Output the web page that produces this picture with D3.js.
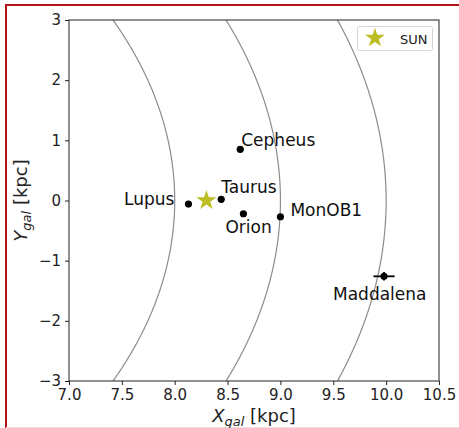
<!DOCTYPE html>
<html><head><meta charset="utf-8">
<script src="https://cdn.jsdelivr.net/npm/d3@7"></script>
<style>
html,body{margin:0;padding:0;background:#fff;}
svg{display:block;font-family:"DejaVu Sans",sans-serif;}
</style></head>
<body>
<svg id="c" width="459" height="428"></svg>
<script>
// ---- data ----
const regions = ["Lupus", "Taurus", "Cepheus", "Orion", "MonOB1", "Maddalena"];
const xgal = [8.13, 8.44, 8.62, 8.65, 9.00, 9.98];
const ygal = [-0.06, 0.02, 0.85, -0.22, -0.27, -1.26];
const xerr = [0, 0, 0.03, 0, 0, 0.10];
const yerr = [0, 0, 0.03, 0, 0, 0.07];
const sunX = [8.3];
const sunY = [0.0];
const circleRadii = [8, 9, 10];
const xTicks = [7.0, 7.5, 8.0, 8.5, 9.0, 9.5, 10.0, 10.5];
const yTicks = [-3, -2, -1, 0, 1, 2, 3];
const legendLabels = ["SUN"];

// ---- layout / style (not data) ----
const labelStyle = {
  Lupus:     {dx: -14, dy: 1,  anchor: "end"},
  Taurus:    {dx: 0,   dy: -6, anchor: "start"},
  Cepheus:   {dx: 1,   dy: -3, anchor: "start"},
  Orion:     {dx: -18, dy: 19, anchor: "start"},
  MonOB1:    {dx: 10,  dy: -1, anchor: "start"},
  Maddalena: {dx: -51, dy: 24, anchor: "start"}
};
const starColor = "#bcbd22";

const svg = d3.select("#c");
// figure border
svg.append("rect").attr("x", 0).attr("y", 0).attr("width", 459).attr("height", 428).attr("fill", "#fff");
svg.append("path").attr("d", "M6,428 V5 H459").attr("fill", "none").attr("stroke", "#b21515").attr("stroke-width", 2);
svg.append("line").attr("x1", 6).attr("x2", 459).attr("y1", 427.5).attr("y2", 427.5).attr("stroke", "#f3dede").attr("stroke-width", 1);

const L = 69, R = 439, T = 20, B = 381;
const x = d3.scaleLinear().domain([7.0, 10.5]).range([L, R]);
const y = d3.scaleLinear().domain([-3, 3]).range([B, T]);

svg.append("clipPath").attr("id", "clip").append("rect")
  .attr("x", L).attr("y", T).attr("width", R - L).attr("height", B - T);

const plot = svg.append("g").attr("clip-path", "url(#clip)");

// circles of constant galactocentric radius
circleRadii.forEach(r => {
  const pts = d3.range(-3.3, 3.31, 0.02).map(v => [Math.sqrt(r * r - v * v), v]);
  plot.append("path")
    .attr("d", d3.line().x(d => x(d[0])).y(d => y(d[1]))(pts))
    .attr("fill", "none").attr("stroke", "#8c8c8c").attr("stroke-width", 1.2);
});

// error bars
regions.forEach((name, i) => {
  if (xerr[i] > 0) plot.append("line")
    .attr("x1", x(xgal[i] - xerr[i])).attr("x2", x(xgal[i] + xerr[i]))
    .attr("y1", y(ygal[i])).attr("y2", y(ygal[i]))
    .attr("stroke", "#000").attr("stroke-width", 1.8);
  if (yerr[i] > 0) plot.append("line")
    .attr("x1", x(xgal[i])).attr("x2", x(xgal[i]))
    .attr("y1", y(ygal[i] - yerr[i])).attr("y2", y(ygal[i] + yerr[i]))
    .attr("stroke", "#000").attr("stroke-width", 1.8);
});

// points
regions.forEach((name, i) => {
  plot.append("circle").attr("cx", x(xgal[i])).attr("cy", y(ygal[i])).attr("r", 3.6).attr("fill", "#000");
});

// sun star
const star = d3.symbol().type(d3.symbolStar).size(125);
plot.append("path").attr("d", star())
  .attr("transform", `translate(${x(sunX[0])},${y(sunY[0])})`)
  .attr("fill", starColor);

// labels
regions.forEach((name, i) => {
  const s = labelStyle[name];
  svg.append("text").attr("x", x(xgal[i]) + s.dx).attr("y", y(ygal[i]) + s.dy)
    .attr("text-anchor", s.anchor).attr("font-size", 17).attr("fill", "#111").text(name);
});

// axes
const fmtX = d3.format(".1f");
const fmtY = v => (v < 0 ? "\u2212" + Math.abs(v) : String(v));
const xAxis = svg.append("g").attr("transform", `translate(0,${B})`)
  .call(d3.axisBottom(x).tickValues(xTicks).tickFormat(fmtX).tickSizeOuter(0).tickSize(4).tickPadding(4));
const yAxis = svg.append("g").attr("transform", `translate(${L},0)`)
  .call(d3.axisLeft(y).tickValues(yTicks).tickFormat(fmtY).tickSizeOuter(0).tickSize(4).tickPadding(4));
[xAxis, yAxis].forEach(a => {
  a.select(".domain").remove();
  a.selectAll("text").attr("font-size", 15).attr("font-family", "DejaVu Sans").attr("fill", "#222");
  a.selectAll("line").attr("stroke", "#222");
});
svg.append("rect").attr("x", L).attr("y", T).attr("width", R - L).attr("height", B - T)
  .attr("fill", "none").attr("stroke", "#222").attr("stroke-width", 1);

// axis labels
const xl = svg.append("text").attr("x", (L + R) / 2).attr("y", 422).attr("text-anchor", "middle")
  .attr("font-size", 18).attr("fill", "#222");
xl.append("tspan").attr("font-style", "italic").text("X");
xl.append("tspan").attr("font-style", "italic").attr("font-size", 13).attr("dy", 4).text("gal");
xl.append("tspan").attr("dy", -4).text(" [kpc]");

const yl = svg.append("text").attr("transform", `translate(27,${(T + B) / 2}) rotate(-90)`)
  .attr("text-anchor", "middle").attr("font-size", 18).attr("fill", "#222");
yl.append("tspan").attr("font-style", "italic").text("Y");
yl.append("tspan").attr("font-style", "italic").attr("font-size", 13).attr("dy", 4).text("gal");
yl.append("tspan").attr("dy", -4).text(" [kpc]");

// legend
const lg = svg.append("g");
lg.append("rect").attr("x", 357.5).attr("y", 26.5).attr("width", 75).attr("height", 24).attr("rx", 2)
  .attr("fill", "#fff").attr("stroke", "#d5d5d5").attr("stroke-width", 1);
lg.append("path").attr("d", d3.symbol().type(d3.symbolStar).size(120)())
  .attr("transform", "translate(375,38)").attr("fill", starColor);
lg.append("text").attr("x", 400).attr("y", 43.5).attr("font-size", 13).attr("fill", "#222").text(legendLabels[0]);
</script>
</body></html>
